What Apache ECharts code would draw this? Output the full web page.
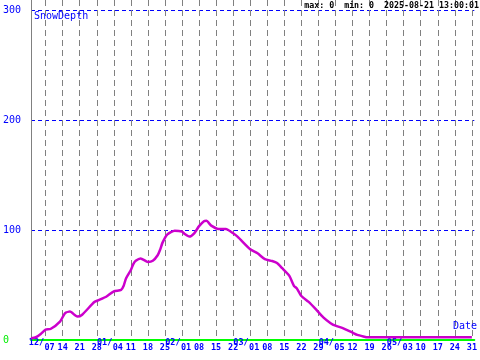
<!DOCTYPE html>
<html>
<head>
<meta charset="utf-8">
<script src="https://cdn.jsdelivr.net/npm/echarts@6/dist/echarts.min.js"></script>
<style>html,body{margin:0;padding:0;background:#fff}#c{width:480px;height:360px}</style>
</head>
<body>
<div id="c"></div>
<script>
// Observation dates (MM-DD; Dec = 2024, Jan-May = 2025)
const dates = ['12-01','12-03','12-05','12-07','12-09','12-13','12-15','12-17','12-20','12-22',
  '12-27','12-29','01-01','01-04','01-07','01-08','01-09','01-11','01-12','01-13',
  '01-15','01-18','01-20','01-22','01-23','01-24','01-26','01-29','02-01','02-02',
  '02-04','02-06','02-08','02-10','02-11','02-13','02-16','02-19','02-22','02-24',
  '03-01','03-04','03-07','03-10','03-12','03-14','03-17','03-19','03-20','03-22',
  '03-25','03-28','03-31','04-03','04-05','04-08','04-12','04-14','04-17','04-18','05-31'];
// Snow depth values
const snowDepth = [1.5,2.5,5.5,9.5,10,17,24.5,25.8,21.3,23,
  34.5,36.4,39.5,44.3,45.5,49,56,63.6,69,72,
  74.2,71,72,77,82,88.5,96,99.3,98.5,96.5,
  94,97,103.5,108,108.3,104,101,101,97,93.5,
  82.5,78.8,73.5,71.8,70,65.5,58.5,49,47.3,40,
  34.6,27.8,20.6,15.3,13,10.8,6.7,4.6,2.9,2.4,2.4];
// Weekly tick labels on the date axis
const weekTicks = ['12-07','12-14','12-21','12-28','01-04','01-11','01-18','01-25',
  '02-01','02-08','02-15','02-22','03-01','03-08','03-15','03-22','03-29',
  '04-05','04-12','04-19','04-26','05-03','05-10','05-17','05-24','05-31'];
// Y-axis tick labels
const yTicks = [0,100,200,300];
const yGridLines = [100,200,300];
const axisStart = '12-01';
const headerText = 'max: 0  min: 0  2025-08-21 13:00:01';

function dayIndex(s){
  const [m,d] = s.split('-').map(Number);
  const y = m >= 12 ? 2024 : 2025;
  return (Date.UTC(y,m-1,d) - Date.UTC(2024,11,1)) / 86400000;
}
const data = dates.map((d,i)=>[dayIndex(d), snowDepth[i]]);
const tickDays = weekTicks.map(dayIndex);
const tickInfo = {};
weekTicks.forEach((t,i)=>{
  const [m,d] = t.split('-');
  const prevM = i>0 ? weekTicks[i-1].split('-')[0] : null;
  tickInfo[tickDays[i]] = {m, d, first: m !== prevM};
});
const monthTickDays = tickDays.filter(v=>tickInfo[v].first);

const FONT = 'DejaVu Sans Mono';
const xMin = dayIndex(axisStart), xMax = dayIndex('05-31')+1;
const lab = {fontFamily:FONT,fontSize:8.5,fontWeight:'bold',color:'#0000ff',lineHeight:9};
const chart = echarts.init(document.getElementById('c'), null, {renderer:'canvas'});
chart.setOption({
  animation:false,
  backgroundColor:'#ffffff',
  grid:{left:30,right:0,top:0,bottom:20},
  title:[
    {text:'SnowDepth', left:34, top:11, padding:0,
     textStyle:{fontFamily:FONT,fontSize:10,fontWeight:'normal',color:'#0000ff'}},
    {text:'Date', right:3, top:321, padding:0,
     textStyle:{fontFamily:FONT,fontSize:10,fontWeight:'normal',color:'#0000ff'}},
    {text:headerText, right:1, top:1.5, padding:0,
     textStyle:{fontFamily:FONT,fontSize:8.3,fontWeight:'bold',color:'#000000'}}
  ],
  xAxis:[{
    type:'value', min:xMin, max:xMax, position:'bottom',
    axisLine:{show:true,onZero:false,lineStyle:{color:'#00ff00',width:2}},
    axisTick:{show:false,customValues:tickDays},
    axisLabel:{
      customValues:tickDays, margin:0, showMinLabel:true, showMaxLabel:true, hideOverlap:false,
      fontFamily:FONT, fontSize:8.5, fontWeight:'bold', color:'#0000ff',
      formatter:function(v){
        const t = tickInfo[v]; if(!t) return '';
        return t.first ? '{dm|'+t.d+'}' : '{d|'+t.d+'}';
      },
      rich:{
        d:Object.assign({},lab,{padding:[6,0,0,0]}),
        dm:Object.assign({},lab,{padding:[6,0,0,8]})
      }
    },
    splitLine:{show:true,lineStyle:{color:'#808080',width:1,type:[6,4]}}
  },{
    type:'value', min:xMin, max:xMax, position:'bottom', gridIndex:0,
    axisLine:{show:false}, axisTick:{show:false}, splitLine:{show:false},
    axisLabel:{
      customValues:monthTickDays, margin:1.5, showMinLabel:true, showMaxLabel:true,
      align:'right',
      formatter:function(v){ const t = tickInfo[v]; return t ? '{m|'+t.m+'/}' : ''; },
      rich:{ m:Object.assign({},lab,{padding:[0,1.5,6,0]}) }
    }
  }],
  yAxis:{
    type:'value', min:0, max:340/1.1,
    axisLine:{show:true,lineStyle:{color:'#808080',width:1}},
    axisTick:{show:false,customValues:yGridLines},
    axisLabel:{
      customValues:yTicks, align:'left', margin:28, showMinLabel:true, showMaxLabel:true,
      fontFamily:FONT, fontSize:10,
      formatter:function(v){ return v===0 ? '{g|0}' : '{b|'+v+'}'; },
      rich:{
        g:{fontFamily:FONT,fontSize:10,color:'#00ee00'},
        b:{fontFamily:FONT,fontSize:10,color:'#0000ff'}
      }
    },
    splitLine:{show:true,lineStyle:{color:'#0000ff',width:1,type:[4,3]}}
  },
  series:[{
    type:'line', xAxisIndex:0, data:data, showSymbol:false, smooth:0.2,
    lineStyle:{color:'#cc00cc',width:2.5}, z:5
  }]
});
</script>
</body>
</html>
